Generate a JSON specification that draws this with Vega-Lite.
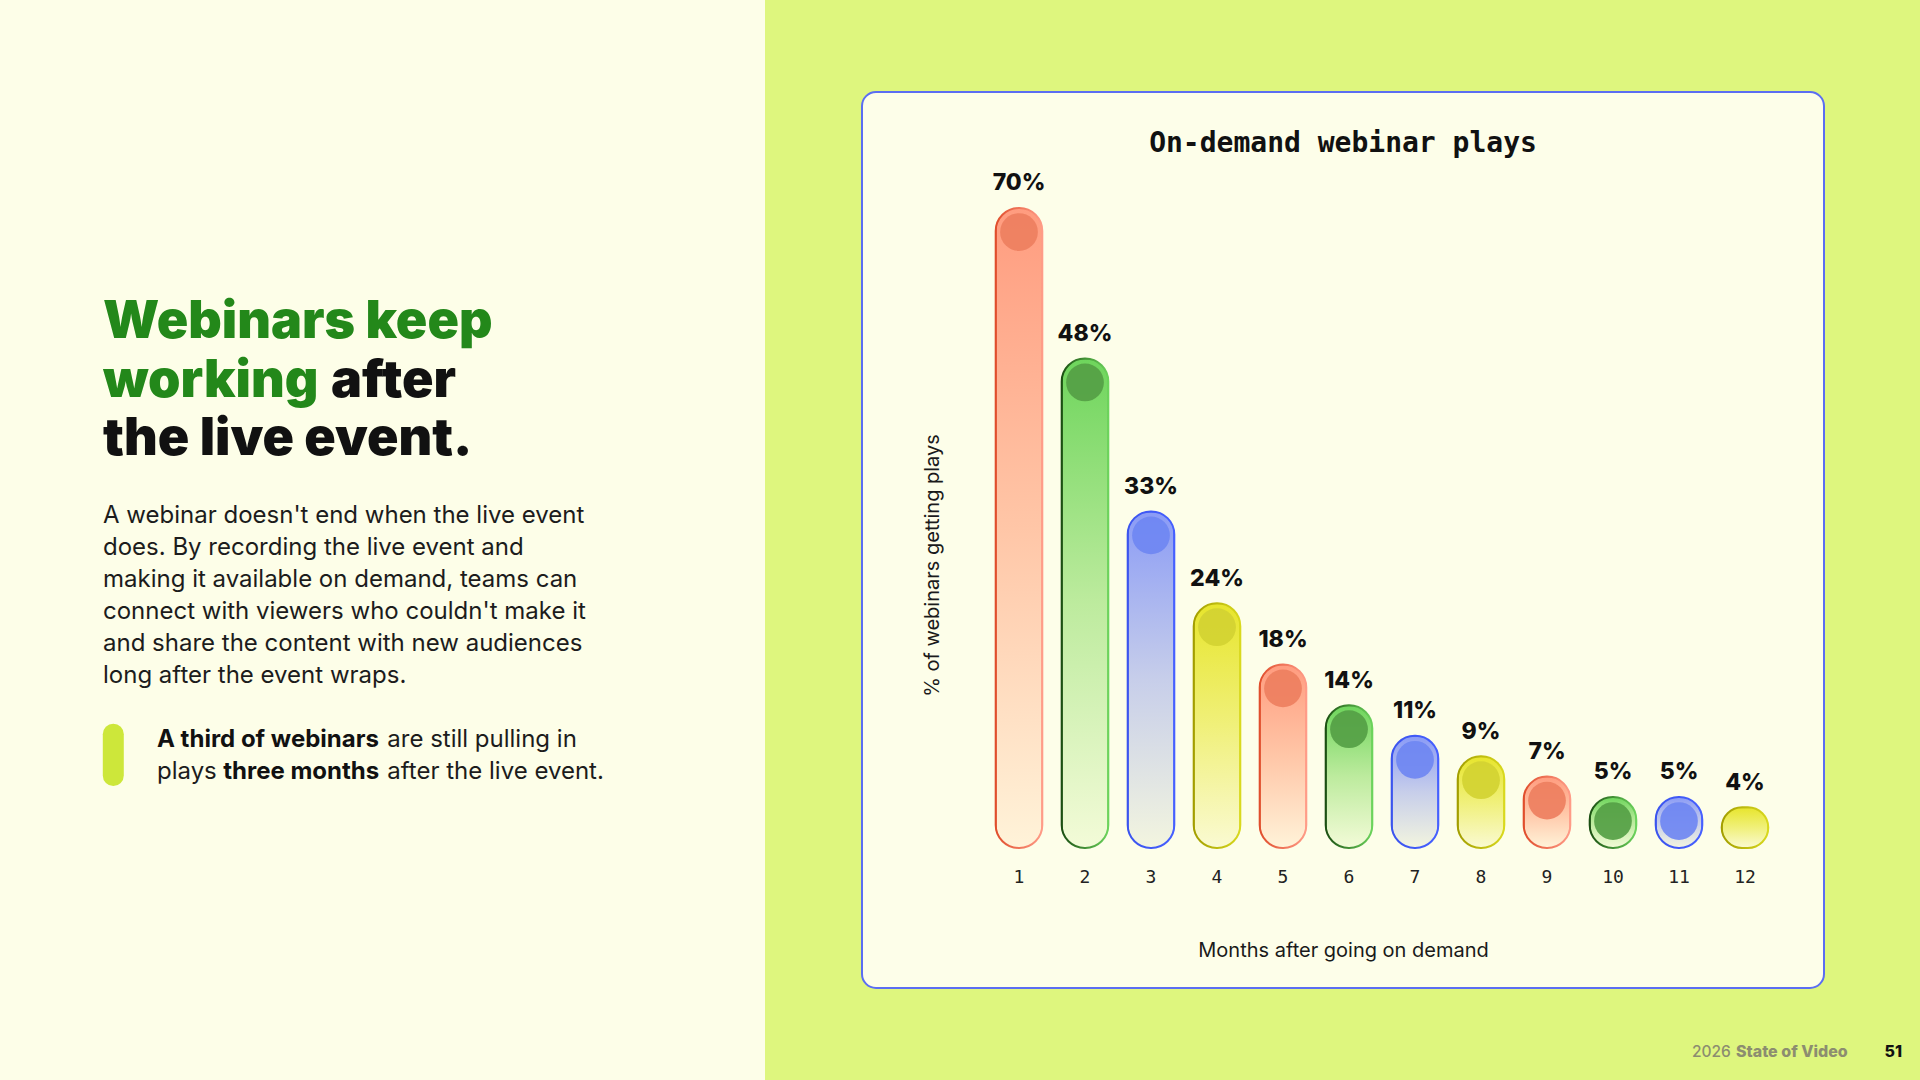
{
  "$schema": "https://vega.github.io/schema/vega-lite/v6.json",
  "background": "#DEF67E",
  "padding": {"left": 0, "top": 0, "right": 18, "bottom": 0},
  "autosize": {"type": "pad"},
  "spacing": 97,
  "bounds": "flush",
  "center": true,
  "config": {"font": "Inter"},
  "hconcat": [
    {
      "width": 765,
      "height": 1080,
      "view": {"fill": "#FDFEE8", "stroke": null},
      "data": {"values": [
        {"role": "marker", "line": 10, "col": 0, "text": ""},
        {"role": "heading-em", "line": 1, "col": 0, "text": "Webinars keep"},
        {"role": "heading-em", "line": 2, "col": 0, "text": "working"},
        {"role": "heading-tail", "line": 2, "col": 0, "text": "after"},
        {"role": "heading", "line": 3, "col": 0, "text": "the live event."},
        {"role": "body", "line": 4, "col": 0, "text": "A webinar doesn't end when the live event"},
        {"role": "body", "line": 5, "col": 0, "text": "does. By recording the live event and"},
        {"role": "body", "line": 6, "col": 0, "text": "making it available on demand, teams can"},
        {"role": "body", "line": 7, "col": 0, "text": "connect with viewers who couldn't make it"},
        {"role": "body", "line": 8, "col": 0, "text": "and share the content with new audiences"},
        {"role": "body", "line": 9, "col": 0, "text": "long after the event wraps."},
        {"role": "bullet-strong", "line": 10, "col": 1, "text": "A third of webinars"},
        {"role": "bullet-tail", "line": 10, "col": 1, "text": "are still pulling in"},
        {"role": "bullet-lead", "line": 11, "col": 1, "text": "plays"},
        {"role": "bullet-strong-mid", "line": 11, "col": 1, "text": "three months"},
        {"role": "bullet-tail", "line": 11, "col": 1, "text": "after the live event."},
        {"role": "footer-year", "line": 12, "col": 2, "text": "2026"},
        {"role": "footer-name", "line": 12, "col": 2, "text": "State of Video"},
        {"role": "footer-page", "line": 12, "col": 3, "text": "51"}
      ]},
      "encoding": {
        "x": {"field": "col", "type": "quantitative", "axis": null,
              "scale": {"domain": [0, 1, 2, 3], "range": [103, 157, 1692, 1902], "nice": false, "zero": false}},
        "y": {"field": "line", "type": "quantitative", "axis": null,
              "scale": {"domain": [1, 3, 4, 9, 10, 11, 12], "range": [338.3, 455, 523.3, 683.3, 746.7, 779, 1057], "nice": false, "zero": false}}
      },
      "layer": [
        {
          "transform": [{"filter": "datum.role == 'marker'"}],
          "mark": {"type": "rule", "strokeWidth": 21, "strokeCap": "round", "color": "#CDE73A", "xOffset": 10.3, "yOffset": -12.5, "y2Offset": -3.5},
          "encoding": {
            "y2": {"datum": 11}
          }
        },
        {
          "transform": [{"filter": "datum.role == 'heading'"}],
          "mark": {"type": "text", "align": "left", "baseline": "alphabetic", "fontSize": 52, "fontWeight": 900, "color": "#111111"},
          "encoding": {"text": {"field": "text"}}
        },
        {
          "transform": [{"filter": "datum.role == 'heading-tail'"}],
          "mark": {"type": "text", "align": "left", "baseline": "alphabetic", "fontSize": 52, "fontWeight": 900, "color": "#111111", "dx": 228},
          "encoding": {"text": {"field": "text"}}
        },
        {
          "transform": [{"filter": "datum.role == 'heading-em'"}],
          "mark": {"type": "text", "align": "left", "baseline": "alphabetic", "fontSize": 52, "fontWeight": 900, "color": "#23881A"},
          "encoding": {"text": {"field": "text"}}
        },
        {
          "transform": [{"filter": "datum.role == 'body'"}],
          "mark": {"type": "text", "align": "left", "baseline": "alphabetic", "fontSize": 24, "fontWeight": 400, "color": "#1C1C1C"},
          "encoding": {"text": {"field": "text"}}
        },
        {
          "transform": [{"filter": "datum.role == 'bullet-strong'"}],
          "mark": {"type": "text", "align": "left", "baseline": "alphabetic", "fontSize": 24, "fontWeight": 700, "color": "#111111"},
          "encoding": {"text": {"field": "text"}}
        },
        {
          "transform": [{"filter": "datum.role == 'bullet-strong-mid'"}],
          "mark": {"type": "text", "align": "left", "baseline": "alphabetic", "fontSize": 24, "fontWeight": 700, "color": "#111111", "dx": 66.2},
          "encoding": {"text": {"field": "text"}}
        },
        {
          "transform": [{"filter": "datum.role == 'bullet-lead'"}],
          "mark": {"type": "text", "align": "left", "baseline": "alphabetic", "fontSize": 24, "fontWeight": 400, "color": "#1C1C1C"},
          "encoding": {"text": {"field": "text"}}
        },
        {
          "transform": [{"filter": "datum.role == 'bullet-tail'"}],
          "mark": {"type": "text", "align": "left", "baseline": "alphabetic", "fontSize": 24, "fontWeight": 400, "color": "#1C1C1C", "dx": 230.3},
          "encoding": {"text": {"field": "text"}}
        },
        {
          "transform": [{"filter": "datum.role == 'footer-year'"}],
          "mark": {"type": "text", "align": "left", "baseline": "alphabetic", "fontSize": 15.5, "fontWeight": 500, "color": "#8C8D70"},
          "encoding": {"text": {"field": "text"}}
        },
        {
          "transform": [{"filter": "datum.role == 'footer-name'"}],
          "mark": {"type": "text", "align": "left", "baseline": "alphabetic", "fontSize": 16, "fontWeight": 800, "color": "#8C8D70", "dx": 44},
          "encoding": {"text": {"field": "text"}}
        },
        {
          "transform": [{"filter": "datum.role == 'footer-page'"}],
          "mark": {"type": "text", "align": "right", "baseline": "alphabetic", "fontSize": 16, "fontWeight": 800, "color": "#111111"},
          "encoding": {"text": {"field": "text"}}
        }
      ]
    },
    {
      "width": 962,
      "height": 896,
      "view": {"fill": "#FDFEE9", "stroke": "#5B6EF2", "strokeWidth": 2, "cornerRadius": 14},
      "title": {
        "text": "On-demand webinar plays",
        "font": "DejaVu Sans Mono",
        "fontSize": 28,
        "fontWeight": "bold",
        "color": "#111111",
        "anchor": "middle",
        "frame": "group",
        "offset": -66
      },
      "data": {"values": [
        {"month": 1, "share": 0.70},
        {"month": 2, "share": 0.48},
        {"month": 3, "share": 0.33},
        {"month": 4, "share": 0.24},
        {"month": 5, "share": 0.18},
        {"month": 6, "share": 0.14},
        {"month": 7, "share": 0.11},
        {"month": 8, "share": 0.09},
        {"month": 9, "share": 0.07},
        {"month": 10, "share": 0.05},
        {"month": 11, "share": 0.05},
        {"month": 12, "share": 0.04}
      ]},
      "encoding": {
        "x": {
          "field": "month", "type": "ordinal",
          "scale": {"range": [124, 916], "paddingInner": 0.294, "paddingOuter": 0.147},
          "axis": {
            "title": "Months after going on demand",
            "labelAngle": 0,
            "labelFont": "DejaVu Sans Mono",
            "labelFontSize": 18,
            "labelColor": "#222222",
            "labelPadding": 20,
            "domain": false,
            "ticks": false,
            "grid": false,
            "offset": -140,
            "titleFont": "Inter",
            "titleFontSize": 20,
            "titleFontWeight": 400,
            "titleColor": "#1A1A1A",
            "titleX": 481,
            "titleY": 108,
            "titleAlign": "center",
            "titleBaseline": "alphabetic"
          }
        },
        "y": {
          "field": "share", "type": "quantitative",
          "scale": {"domain": [0, 0.6275], "range": [756, 116], "clamp": true, "nice": false, "zero": true},
          "axis": {
            "title": "% of webinars getting plays",
            "labels": false,
            "ticks": false,
            "domain": false,
            "grid": false,
            "titleFont": "Inter",
            "titleFontSize": 20,
            "titleFontWeight": 400,
            "titleColor": "#1A1A1A",
            "titleX": 76,
            "titleY": 473,
            "titleAngle": -90,
            "titleAlign": "center",
            "titleBaseline": "alphabetic"
          }
        }
      },
      "layer": [
        {
          "transform": [{"filter": "datum.month % 4 == 1"}],
          "layer": [
            {
              "mark": {"type": "bar", "cornerRadius": 23, "strokeWidth": 2,
                "fill": {"gradient": "linear", "x1": 0, "y1": 0, "x2": 0, "y2": 1, "stops": [{"offset": 0, "color": "#FF9C7F"}, {"offset": 0.5, "color": "#FFC6A7"}, {"offset": 1, "color": "#FFF3D9"}]},
                "stroke": {"gradient": "linear", "x1": 0, "y1": 0, "x2": 1, "y2": 0, "stops": [{"offset": 0, "color": "#E04E2C"}, {"offset": 1, "color": "#FF9C88"}]}}
            },
            {
              "transform": [{"filter": "datum.share >= 0.05"}],
              "mark": {"type": "point", "shape": "circle", "filled": true, "size": 1425, "yOffset": 24, "color": "#EE7F5F", "opacity": 0.92, "strokeWidth": 0}
            }
          ]
        },
        {
          "transform": [{"filter": "datum.month % 4 == 2"}],
          "layer": [
            {
              "mark": {"type": "bar", "cornerRadius": 23, "strokeWidth": 2,
                "fill": {"gradient": "linear", "x1": 0, "y1": 0, "x2": 0, "y2": 1, "stops": [{"offset": 0, "color": "#6ED55C"}, {"offset": 0.5, "color": "#BDEB9E"}, {"offset": 1, "color": "#F3FBD8"}]},
                "stroke": {"gradient": "linear", "x1": 0, "y1": 0, "x2": 1, "y2": 0, "stops": [{"offset": 0, "color": "#1B4F12"}, {"offset": 1, "color": "#6CD45C"}]}}
            },
            {
              "transform": [{"filter": "datum.share >= 0.05"}],
              "mark": {"type": "point", "shape": "circle", "filled": true, "size": 1425, "yOffset": 24, "color": "#559F45", "opacity": 0.92, "strokeWidth": 0}
            }
          ]
        },
        {
          "transform": [{"filter": "datum.month % 4 == 3"}],
          "layer": [
            {
              "mark": {"type": "bar", "cornerRadius": 23, "strokeWidth": 2,
                "fill": {"gradient": "linear", "x1": 0, "y1": 0, "x2": 0, "y2": 1, "stops": [{"offset": 0, "color": "#8A9BF6"}, {"offset": 0.5, "color": "#C7CEEA"}, {"offset": 1, "color": "#F3F5DF"}]},
                "stroke": {"gradient": "linear", "x1": 0, "y1": 0, "x2": 1, "y2": 0, "stops": [{"offset": 0, "color": "#3B54EE"}, {"offset": 1, "color": "#4660FF"}]}}
            },
            {
              "transform": [{"filter": "datum.share >= 0.05"}],
              "mark": {"type": "point", "shape": "circle", "filled": true, "size": 1425, "yOffset": 24, "color": "#6F87F2", "opacity": 0.92, "strokeWidth": 0}
            }
          ]
        },
        {
          "transform": [{"filter": "datum.month % 4 == 0"}],
          "layer": [
            {
              "mark": {"type": "bar", "cornerRadius": 23, "strokeWidth": 2,
                "fill": {"gradient": "linear", "x1": 0, "y1": 0, "x2": 0, "y2": 1, "stops": [{"offset": 0, "color": "#E7E52C"}, {"offset": 0.5, "color": "#F0F07A"}, {"offset": 1, "color": "#FAFAD2"}]},
                "stroke": {"gradient": "linear", "x1": 0, "y1": 0, "x2": 1, "y2": 0, "stops": [{"offset": 0, "color": "#A39E00"}, {"offset": 1, "color": "#D9D91E"}]}}
            },
            {
              "transform": [{"filter": "datum.share >= 0.05"}],
              "mark": {"type": "point", "shape": "circle", "filled": true, "size": 1425, "yOffset": 24, "color": "#D3D332", "opacity": 0.92, "strokeWidth": 0}
            }
          ]
        },
        {
          "mark": {"type": "text", "baseline": "alphabetic", "align": "center", "dy": -17.7, "font": "Inter", "fontSize": 23, "fontWeight": 800, "color": "#111111"},
          "encoding": {"text": {"field": "share", "type": "quantitative", "format": ".0%"}}
        }
      ]
    }
  ]
}
